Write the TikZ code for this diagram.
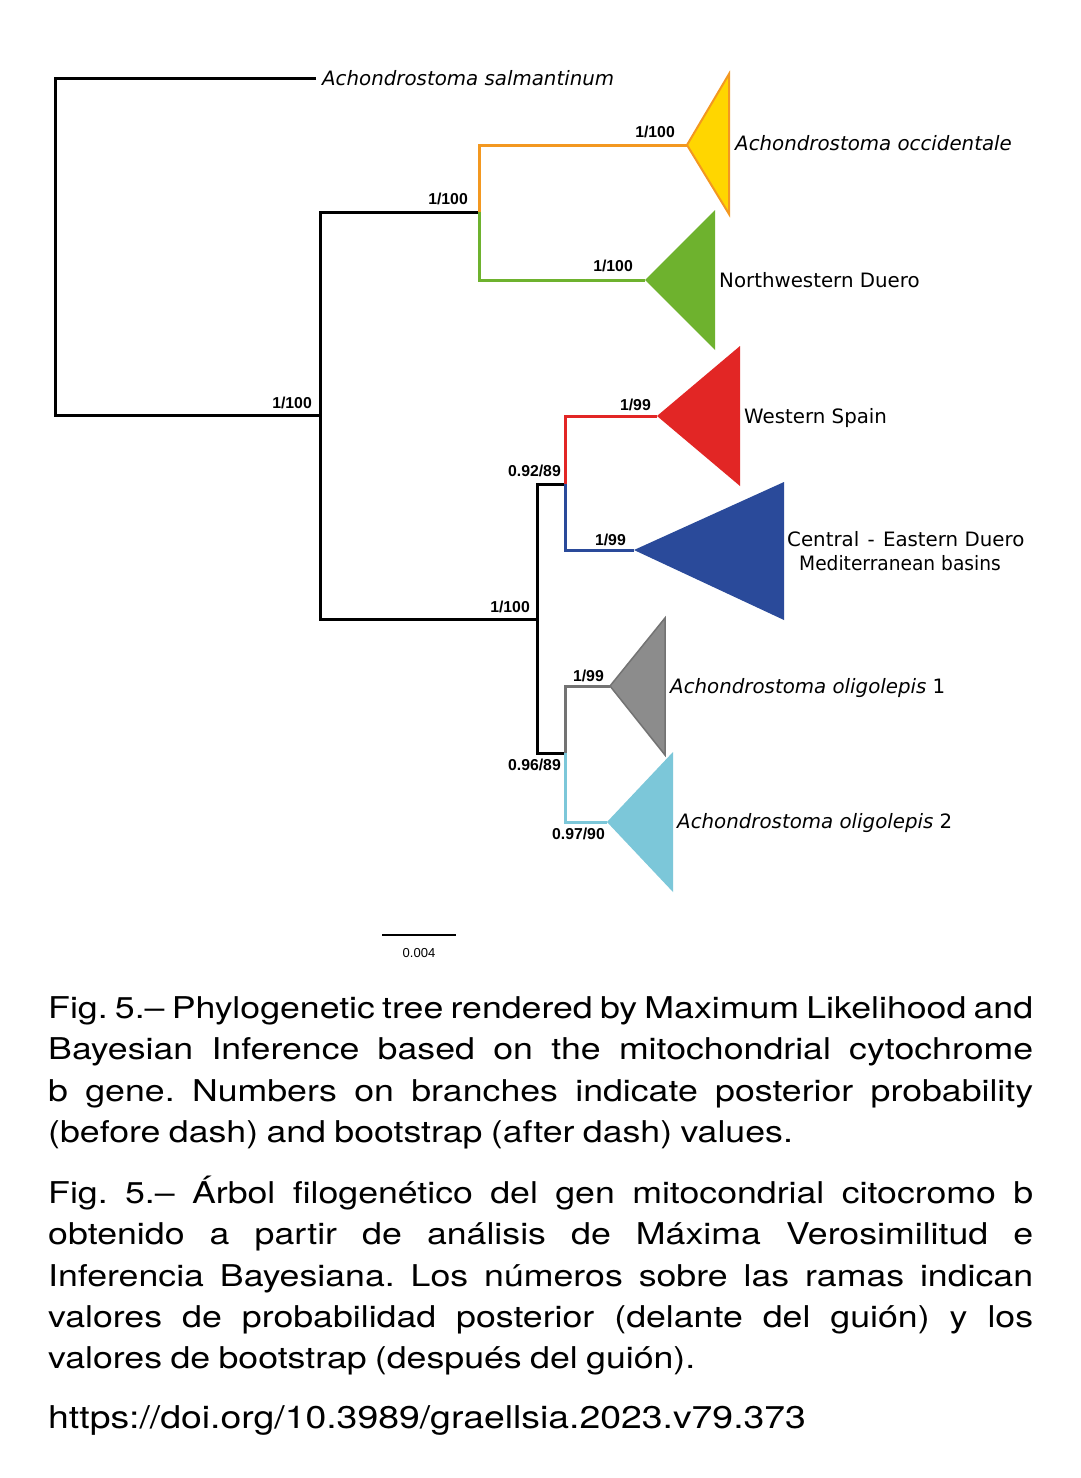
\documentclass[tikz,border=0pt]{standalone}
\usepackage{graphicx}
\usepackage{fontspec}
\setmainfont{TeX Gyre Heros}[FakeStretch=1.19]
\newfontfamily\treefont{DejaVu Sans}
\newfontfamily\supfont{Liberation Sans}
\newfontfamily\urlfont{TeX Gyre Heros}[FakeStretch=1.19]
\newcommand\mycapfont{\fontsize{30}{41}\selectfont\frenchspacing\spaceskip 0.278em plus 0.6em minus 0.15em\relax}
\definecolor{yfill}{RGB}{255,214,0}
\definecolor{yorange}{RGB}{243,152,32}
\definecolor{tgreen}{RGB}{110,178,46}
\definecolor{tred}{RGB}{226,38,37}
\definecolor{tblue}{RGB}{42,74,154}
\definecolor{tgrayf}{RGB}{140,140,140}
\definecolor{tgrayl}{RGB}{115,115,115}
\definecolor{tlblue}{RGB}{124,199,217}
\tikzset{
  br/.style={line width=3pt, line join=miter},
  sup/.style={font=\supfont\bfseries\fontsize{15.8}{18}\selectfont, inner sep=0pt, anchor=base east},
  tax/.style={font=\treefont\fontsize{19.8}{23}\selectfont, inner sep=0pt, anchor=base west},
  taxi/.style={font=\treefont\itshape\fontsize{19.8}{23}\selectfont, inner sep=0pt, anchor=base west},
  capt/.style={font=\mycapfont, inner sep=0pt, anchor=base west},
}
\begin{document}
\begin{tikzpicture}[x=1pt,y=-1pt]
\useasboundingbox (0,0) rectangle (1081,1478);
\fill[white] (0,0) rectangle (1081,1478);
% coordinates
\coordinate (lS) at (316,78);
\coordinate (r0) at (55,415);
\coordinate (n1) at (320,415);
\coordinate (n1b) at (320,619);
\coordinate (n2) at (479,212);
\coordinate (n3) at (537,619);
\coordinate (n4) at (565,484);
\coordinate (n5) at (565,753);
\coordinate (tA) at (687,145);
\coordinate (tB) at (645,280);
\coordinate (tC) at (657,416);
\coordinate (tD) at (634,550);
\coordinate (tE) at (610,686);
\coordinate (tF) at (607,822);
% clades
\filldraw[fill=yfill, draw=yorange, line width=2pt, line join=miter] (tA) -- (729,74) -- (729,214) -- cycle;
\fill[tgreen] (tB) -- (715,210) -- (715,350) -- cycle;
\fill[tred] (tC) -- (740,346) -- (740,486) -- cycle;
\fill[tblue] (tD) -- (784,482) -- (784,620) -- cycle;
\filldraw[fill=tgrayf, draw=tgrayl, line width=1.5pt, line join=miter] (tE) -- (665,618) -- (665,755) -- cycle;
\fill[tlblue] (tF) -- (673,752) -- (673,892) -- cycle;
% branches
\draw[br] (lS) -| (r0) -- (n1);
\draw[br] (n2) -| (n1b) -- (n3);
\draw[br, yorange] (tA) -| (n2);
\draw[br, tgreen] (tB) -| (n2);
\draw[br] (n4) -| (n3) |- (n5);
\draw[br, tred] (tC) -| (n4);
\draw[br, tblue] (tD) -| (n4);
\draw[br, tgrayl] (tE) -| (n5);
\draw[br, tlblue] (tF) -| (n5);
% taxa
\node[taxi] (salm) at (322,85) {Achondrostoma salmantinum};
\node[taxi] (occ) at (735,150) {Achondrostoma occidentale};
\node[tax] (nwd) at (719,287) {Northwestern Duero};
\node[tax] (wsp) at (744,423) {Western Spain};
\node[tax] (ced) at (787,546) {Central\hspace{2pt} - \hspace{2pt}Eastern Duero};
\node[tax] (med) at (799,570) {\scalebox{0.94}[1]{Mediterranean basins}};
\node[taxi] (ol1) at (670,693) {Achondrostoma oligolepis \upshape 1};
\node[taxi] (ol2) at (677,828) {Achondrostoma oligolepis \upshape 2};
% supports
\node[sup] (s1) at (312,408) {1/100};
\node[sup] (s2) at (468,204) {1/100};
\node[sup] (s3) at (675,137) {1/100};
\node[sup] (s4) at (633,271) {1/100};
\node[sup] (s5) at (530,612) {1/100};
\node[sup] (s6) at (561,476) {0.92/89};
\node[sup] (s7) at (651,410) {1/99};
\node[sup] (s8) at (626,545) {1/99};
\node[sup] (s9) at (604,681) {1/99};
\node[sup] (s10) at (561,770) {0.96/89};
\node[sup] (s11) at (605,839) {0.97/90};
% scale bar
\coordinate (sb1) at (382,935);
\coordinate (sb2) at (456,935);
\draw[line width=1.5pt] (sb1) -- (sb2);
\node[font=\supfont\fontsize{13}{14}\selectfont, inner sep=0pt, anchor=base] (sbl) at (419,957) {0.004};
% caption
\node[capt] (c1) at (48,1018.3) {\makebox[985pt][s]{Fig. 5.– Phylogenetic tree rendered by Maximum Likelihood and}};
\node[capt] (c2) at (48,1059.6) {\makebox[985pt][s]{Bayesian Inference based on the mitochondrial cytochrome}};
\node[capt] (c3) at (48,1101) {\makebox[985pt][s]{b gene. Numbers on branches indicate posterior probability}};
\node[capt] (c4) at (48,1142.3) {(before dash) and bootstrap (after dash) values.};
\node[capt] (d1) at (48,1203.3) {\makebox[985pt][s]{Fig. 5.– Árbol filogenético del gen mitocondrial citocromo b}};
\node[capt] (d2) at (48,1244.6) {\makebox[985pt][s]{obtenido a partir de análisis de Máxima Verosimilitud e}};
\node[capt] (d3) at (48,1286) {\makebox[985pt][s]{Inferencia Bayesiana. Los números sobre las ramas indican}};
\node[capt] (d4) at (48,1327.3) {\makebox[985pt][s]{valores de probabilidad posterior (delante del guión) y los}};
\node[capt] (d5) at (48,1368.6) {valores de bootstrap (después del guión).};
\node[capt, font=\urlfont\fontsize{31.4}{41}\selectfont] (url) at (48,1428.3) {https://doi.org/10.3989/graellsia.2023.v79.373};
\end{tikzpicture}
\end{document}
